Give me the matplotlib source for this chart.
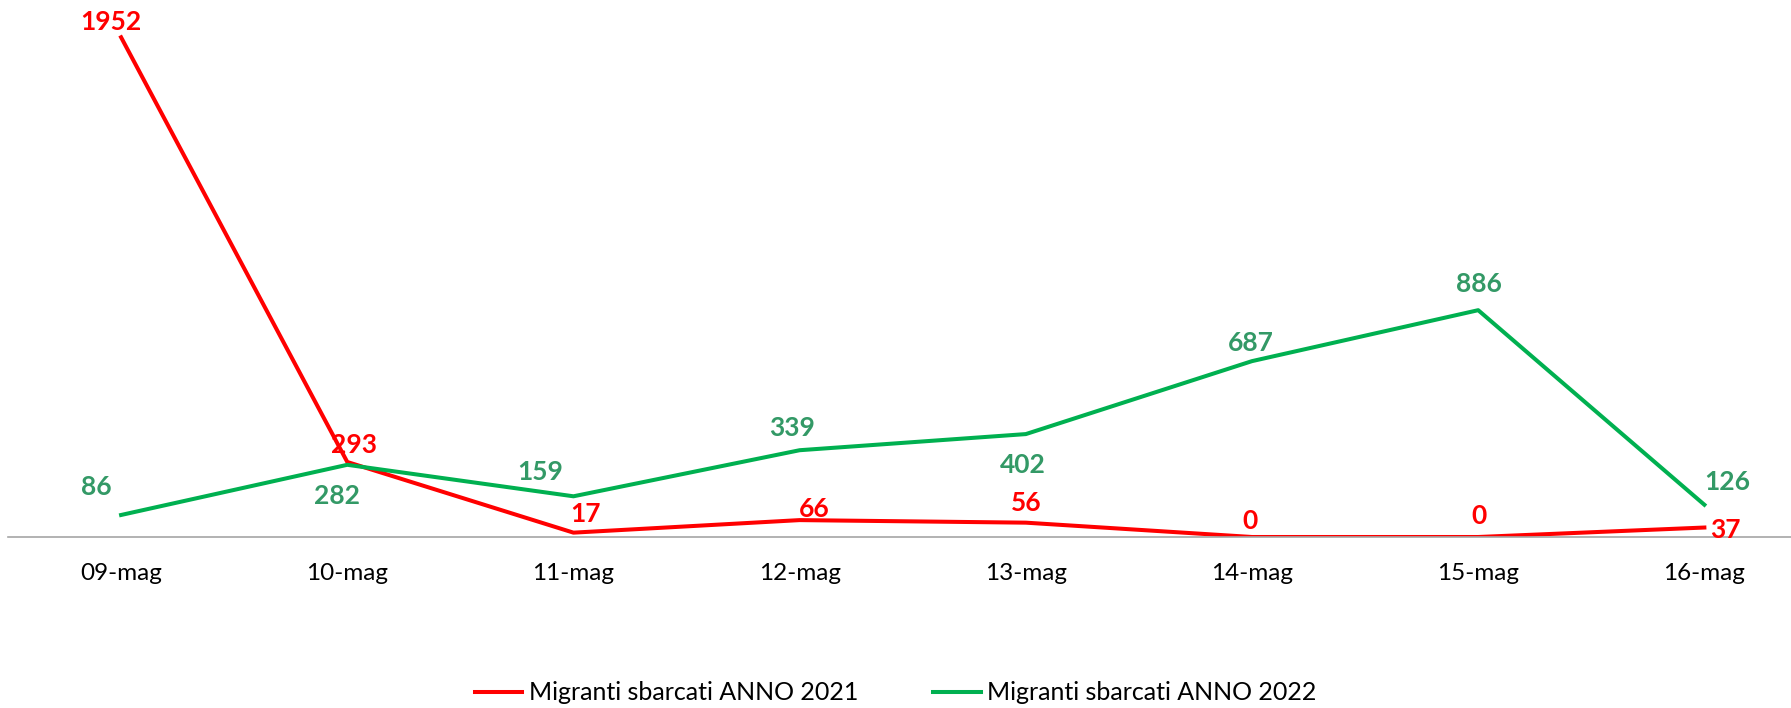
import matplotlib
matplotlib.use("Agg")
import matplotlib.pyplot as plt

# data
days = ["09-mag", "10-mag", "11-mag", "12-mag", "13-mag", "14-mag", "15-mag", "16-mag"]
sbarcati_2021 = [1952, 293, 17, 66, 56, 0, 0, 37]
sbarcati_2022 = [86, 282, 159, 339, 402, 687, 886, 126]
label_2021 = "Migranti sbarcati ANNO 2021"
label_2022 = "Migranti sbarcati ANNO 2022"

# label offsets in pixels (dx, dy up), one per point
off_2021 = [(-10, 15), (7, 17), (12, 19), (15, 11), (0, 20), (-2, 16), (1, 21), (21, -2)]
off_2022 = [(-25, 28), (-10, -31), (-33, 24), (-8, 22), (-3, -31), (-1, 18), (1, 26), (23, 23)]

RED = "#FF0000"
GREEN = "#00B050"
GREEN_TXT = "#339966"
FONT = ["Lato", "DejaVu Sans"]

plt.rcParams["font.family"] = FONT

W, H = 1791, 708
fig = plt.figure(figsize=(W / 100, H / 100), dpi=100)
ax = fig.add_axes([8 / W, (H - 537) / H, (W - 8) / W, (537 - 25) / H])

x = list(range(len(days)))
ax.plot(x, sbarcati_2021, color=RED, lw=2.9, label=label_2021, solid_joinstyle="round")
ax.plot(x, sbarcati_2022, color=GREEN, lw=2.9, label=label_2022, solid_joinstyle="round")

px = 72 / 100  # pixels -> points
for xi, v, (dx, dy) in zip(x, sbarcati_2021, off_2021):
    ax.annotate(str(v), (xi, v), xytext=(dx * px, dy * px), textcoords="offset points",
                ha="center", va="center", color=RED, fontsize=19, fontweight="bold")
for xi, v, (dx, dy) in zip(x, sbarcati_2022, off_2022):
    ax.annotate(str(v), (xi, v), xytext=(dx * px, dy * px), textcoords="offset points",
                ha="center", va="center", color=GREEN_TXT, fontsize=19, fontweight="bold")

ax.set_xlim(-0.5, 7.383)
ax.set_ylim(0, 2000)
ax.set_xticks(x)
ax.set_xticklabels(days, fontsize=17.5)
ax.tick_params(axis="x", length=0, pad=19)
ax.set_yticks([])
for side in ["top", "right", "left"]:
    ax.spines[side].set_visible(False)
ax.spines["bottom"].set_color("#A6A6A6")
ax.spines["bottom"].set_linewidth(1.2)
ax.patch.set_alpha(0)

fig.legend(loc="center", bbox_to_anchor=(0.5, (H - 693) / H), ncol=2, frameon=False,
           fontsize=18, handlelength=1.9, handletextpad=0.25, columnspacing=3.0)

fig.savefig("out.png", dpi=100)
